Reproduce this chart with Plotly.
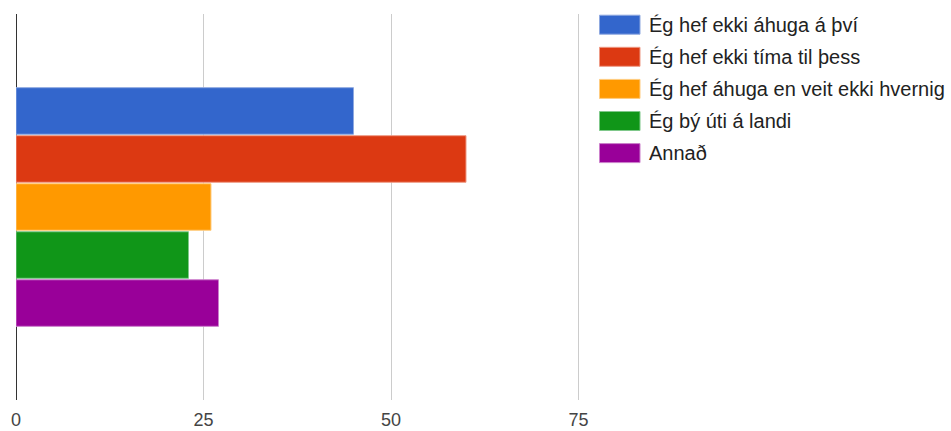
import plotly.graph_objects as go

category = ["Svör"]
series_names = [
    "Ég hef ekki áhuga á því",
    "Ég hef ekki tíma til þess",
    "Ég hef áhuga en veit ekki hvernig",
    "Ég bý úti á landi",
    "Annað",
]
series_values = [45, 60, 26, 23, 27]
series_colors = ["#3366cc", "#dc3912", "#ff9900", "#109618", "#990099"]
border_colors = ["#8fa9e0", "#ee9a85", "#ffcc80", "#7fc88a", "#cc80cc"]
tick_values = [0, 25, 50, 75]
tick_labels = ["0", "25", "50", "75"]

W, H = 951, 431
ML, MR, MT, MB = 16, 365, 14, 31
PW, PH = W - ML - MR, H - MT - MB


def px_x(px):
    return (px - ML) / PW


def px_y(py):
    return (H - MB - py) / PH


fig = go.Figure()
for i, (name, val, col) in enumerate(zip(series_names, series_values, series_colors)):
    fig.add_trace(go.Bar(
        y=category, x=[val], name=name, orientation="h",
        marker=dict(color=col, line=dict(color=border_colors[i], width=1)),
        showlegend=False,
    ))

FONT = "Arial, 'Liberation Sans', sans-serif"

# custom legend (Google-Charts-like wide swatches)
shapes, annotations = [], []
for i, (name, col) in enumerate(zip(series_names, series_colors)):
    cy = 24.7 + 32.1 * i
    shapes.append(dict(
        type="rect", xref="paper", yref="paper",
        x0=px_x(599.5), x1=px_x(640), y0=px_y(cy - 9.5), y1=px_y(cy + 9.5),
        fillcolor=col, line=dict(color=border_colors[i], width=1), layer="above",
    ))
    annotations.append(dict(
        xref="paper", yref="paper", x=px_x(647), y=px_y(cy),
        xanchor="left", yanchor="middle", text=name, showarrow=False,
        font=dict(family=FONT, size=20, color="#222"),
    ))

fig.update_layout(
    width=W, height=H,
    margin=dict(l=ML, r=MR, t=MT, b=MB, autoexpand=False),
    paper_bgcolor="white", plot_bgcolor="white",
    barmode="group", bargap=0.378, bargroupgap=0.03,
    font=dict(family=FONT, size=18, color="#444"),
    showlegend=False,
    shapes=shapes, annotations=annotations,
    xaxis=dict(
        range=[0, 76], tickvals=tick_values, ticktext=tick_labels,
        showgrid=True, gridcolor="#cccccc", gridwidth=1,
        zeroline=True, zerolinecolor="#333333", zerolinewidth=1,
        showline=False, ticks="outside", ticklen=3, tickcolor="rgba(0,0,0,0)",
        tickfont=dict(family=FONT, size=18, color="#444"),
        fixedrange=True,
    ),
    yaxis=dict(
        autorange="reversed", showticklabels=False, showgrid=False,
        zeroline=False, showline=False, fixedrange=True,
    ),
)

fig.write_html("out.html", config={"displayModeBar": False},
               post_script="document.body.style.margin='0';")
